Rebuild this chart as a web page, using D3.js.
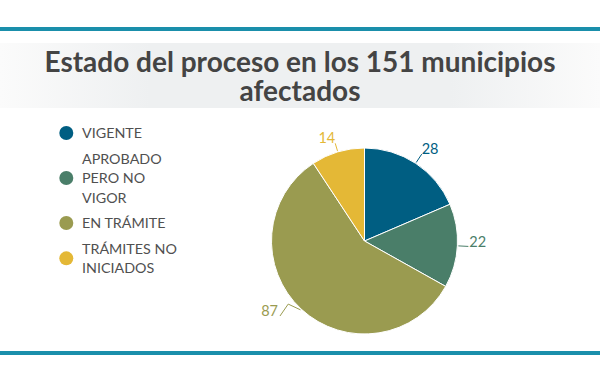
<!DOCTYPE html>
<html>
<head>
<meta charset="utf-8">
<script src="https://cdn.jsdelivr.net/npm/d3@7"></script>
<style>
  html, body { margin: 0; padding: 0; background: #ffffff; }
  svg { display: block; }
  text { font-family: Lato, "Open Sans", sans-serif; }
</style>
</head>
<body>
<div id="chart"></div>
<script>
// ---- data ----
const categories = ["VIGENTE", "APROBADO PERO NO VIGOR", "EN TRÁMITE", "TRÁMITES NO INICIADOS"];
const legendLines = [["VIGENTE"], ["APROBADO", "PERO NO", "VIGOR"], ["EN TRÁMITE"], ["TRÁMITES NO", "INICIADOS"]];
const values = [28, 22, 87, 14];
const colors = ["#005e82", "#4a7e69", "#9a9b50", "#e4b836"];
const titleLines = ["Estado del proceso en los 151 municipios", "afectados"];

// ---- layout ----
const W = 600, H = 383;
const cx = 364.5, cy = 241, R = 93;
const labelLayout = [
  { elbowDa: 0, elbowR: R + 11, anchor: "start", dx: 0 },
  { elbowDa: 0, elbowR: R + 11, anchor: "start", dx: 1 },
  { elbowDa: 7.5, elbowR: R + 6, labelDa: 5.5, labelR: R + 20, anchor: "end", dx: -2 },
  { elbowDa: 0, elbowR: R + 9, anchor: "end", dx: 0 }
];

const svg = d3.select("#chart").append("svg").attr("width", W).attr("height", H);

// header / footer bars
svg.append("rect").attr("x", 0).attr("y", 27).attr("width", W).attr("height", 4).attr("fill", "#1a8fab");
svg.append("rect").attr("x", 0).attr("y", 351).attr("width", W).attr("height", 4).attr("fill", "#1a8fab");

// title band with soft gradient
const defs = svg.append("defs");
const grad = defs.append("linearGradient").attr("id", "tg").attr("x1", "0%").attr("x2", "100%");
grad.append("stop").attr("offset", "0%").attr("stop-color", "#fbfbfb");
grad.append("stop").attr("offset", "25%").attr("stop-color", "#eef0f1");
grad.append("stop").attr("offset", "75%").attr("stop-color", "#eef0f1");
grad.append("stop").attr("offset", "100%").attr("stop-color", "#fbfbfb");
svg.append("rect").attr("x", 0).attr("y", 43).attr("width", W).attr("height", 65).attr("fill", "url(#tg)");

svg.append("g").selectAll("text").data(titleLines).join("text")
  .attr("x", 300).attr("y", (d, i) => 72 + i * 28.5)
  .attr("text-anchor", "middle")
  .attr("font-size", 28).attr("font-weight", 700).attr("fill", "#444444")
  .text(d => d);

// legend
const lineH = 19.3, itemGap = 25.7;
let yb = 138.3;
const legend = svg.append("g");
legendLines.forEach((lines, i) => {
  const first = yb;
  const last = yb + (lines.length - 1) * lineH;
  const g = legend.append("g");
  g.append("circle").attr("cx", 66.3).attr("cy", (first + last) / 2 - 5.3).attr("r", 7).attr("fill", colors[i]);
  g.selectAll("text").data(lines).join("text")
    .attr("x", 82).attr("y", (d, j) => first + j * lineH)
    .attr("font-size", 14.3).attr("fill", "#505050")
    .text(d => d);
  yb = last + itemGap;
});

// pie
const pie = d3.pie().sort(null).value(d => d)(values);
const arc = d3.arc().innerRadius(0).outerRadius(R);
const g = svg.append("g").attr("transform", `translate(${cx},${cy})`);
g.selectAll("path").data(pie).join("path")
  .attr("d", arc).attr("fill", (d, i) => colors[i])
  .attr("stroke", "#ffffff").attr("stroke-width", 1);

// labels with leader lines
const polar = (a, r) => [r * Math.sin(a), -r * Math.cos(a)];
const deg = Math.PI / 180;
pie.forEach((d, i) => {
  const L = labelLayout[i];
  const mid = (d.startAngle + d.endAngle) / 2;
  const p0 = polar(mid, R + 1);
  const p1 = polar(mid + L.elbowDa * deg, L.elbowR);
  const pts = [p0, p1];
  if (L.labelR) pts.push(polar(mid + L.labelDa * deg, L.labelR));
  g.append("path")
    .attr("d", d3.line()(pts))
    .attr("fill", "none").attr("stroke", colors[i]).attr("stroke-width", 1);
  const end = pts[pts.length - 1];
  g.append("text")
    .attr("x", end[0] + L.dx).attr("y", end[1] + (i === 1 ? 0.5 : 0))
    .attr("text-anchor", L.anchor)
    .attr("font-size", 14.5).attr("fill", colors[i])
    .text(values[i]);
});
</script>
</body>
</html>
